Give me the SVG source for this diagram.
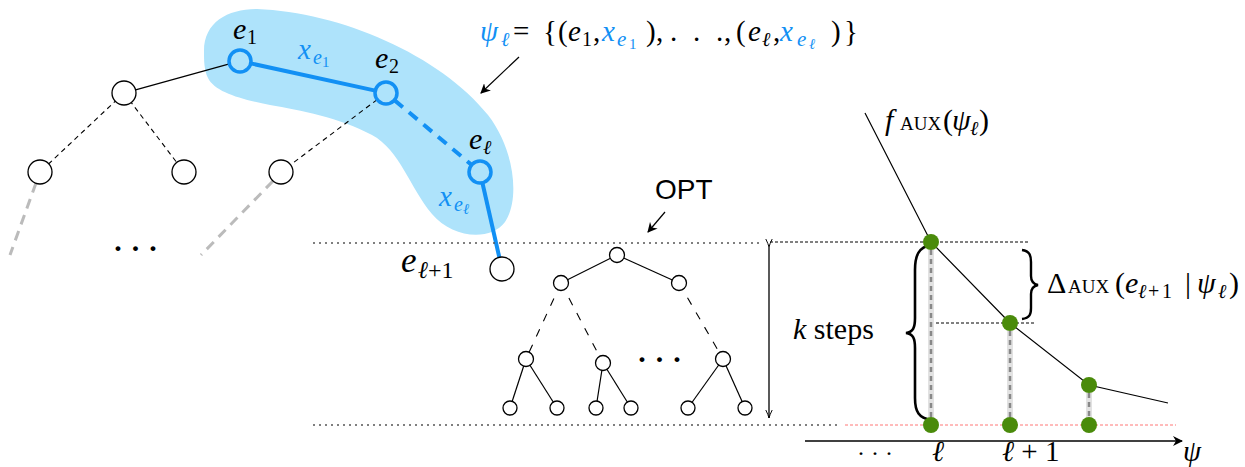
<svg xmlns="http://www.w3.org/2000/svg" width="1245" height="467" viewBox="0 0 1245 467">
<defs>
<marker id="ah" viewBox="0 0 10 10" refX="9" refY="5" markerWidth="10" markerHeight="10" markerUnits="userSpaceOnUse" orient="auto">
<path d="M0,0 L10,5 L0,10 L3,5 Z" fill="#000"/>
</marker>
<marker id="ht" viewBox="0 0 10 10" refX="10" refY="5" markerWidth="12" markerHeight="8" markerUnits="userSpaceOnUse" orient="auto">
<path d="M0,1 Q6,4 10,5 Q6,6 0,9" fill="none" stroke="#000" stroke-width="1.2"/>
</marker>
</defs>

<path id="blob" d="M204,51 C204,22 228,9 257,9 C340,12 440,55 488,115 C515,150 520,200 505,222 C490,242 452,238 432,214 C410,188 400,150 372,135 C340,118 300,110 270,105 C240,99 215,92 208,78 C204,70 204,60 204,51 Z" fill="#aee3fb"/>

<g id="connectors" fill="none">
<g stroke="#000" stroke-width="1.2">
<line x1="135.6" y1="89.8" x2="229.4" y2="63.9"/>
<line x1="617" y1="255" x2="561" y2="283"/>
<line x1="617" y1="255" x2="679" y2="283"/>
<line x1="526" y1="359" x2="510" y2="408"/>
<line x1="526" y1="359" x2="557" y2="408"/>
<line x1="603" y1="363" x2="596" y2="408"/>
<line x1="603" y1="363" x2="631" y2="408"/>
<line x1="723" y1="359" x2="688" y2="408"/>
<line x1="723" y1="359" x2="745" y2="408"/>
<line x1="519" y1="57" x2="481" y2="93" marker-end="url(#ah)"/>
<line x1="665" y1="212" x2="648" y2="232" marker-end="url(#ah)"/>
<polyline points="865,113 931,242 1010,323 1089,385 1168,403"/>
</g>
<g stroke="#000" stroke-width="1.1" stroke-dasharray="5,4">
<line x1="124" y1="93" x2="40" y2="172"/>
<line x1="124" y1="93" x2="184" y2="172"/>
<line x1="377.2" y1="99.6" x2="281" y2="172"/>
</g>
<g stroke="#000" stroke-width="1.1" stroke-dasharray="8,9">
<line x1="561" y1="283" x2="526" y2="359"/>
<line x1="561" y1="283" x2="603" y2="363"/>
<line x1="679" y1="283" x2="723" y2="359"/>
</g>
<g stroke="#bbb" stroke-width="3" stroke-dasharray="10,7">
<line x1="36" y1="183" x2="10" y2="255"/>
<line x1="273" y1="181" x2="201" y2="255"/>
</g>
<g stroke="#1290f4" stroke-width="4">
<line x1="250.7" y1="63.4" x2="375.3" y2="90.6"/>
<line x1="394.4" y1="100.1" x2="471.6" y2="164.9" stroke-dasharray="11,8"/>
<line x1="482.4" y1="182.7" x2="499.3" y2="257.3"/>
</g>
<g stroke="#555" stroke-width="1.3" stroke-dasharray="2,4">
<line x1="313" y1="243" x2="760" y2="243"/>
<line x1="313" y1="425" x2="838" y2="425"/>
</g>
<line x1="769" y1="247" x2="769" y2="418" stroke="#000" stroke-width="1.3" marker-start="url(#ht)" marker-end="url(#ht)"/>
<g stroke="#000" stroke-width="1" stroke-dasharray="3,2">
<line x1="770" y1="242" x2="1030" y2="242"/>
<line x1="931" y1="323" x2="1036" y2="323"/>
</g>
<line x1="845" y1="425" x2="1176" y2="425" stroke="#f77" stroke-width="1" stroke-dasharray="3,2"/>
<g stroke="#e2e2e2" stroke-width="6">
<line x1="931" y1="250" x2="931" y2="418"/>
<line x1="1010" y1="331" x2="1010" y2="418"/>
<line x1="1089" y1="393" x2="1089" y2="418"/>
</g>
<g stroke="#888" stroke-width="2.5" stroke-dasharray="5,4">
<line x1="931" y1="250" x2="931" y2="418"/>
<line x1="1010" y1="331" x2="1010" y2="418"/>
<line x1="1089" y1="393" x2="1089" y2="418"/>
</g>
<line x1="805" y1="441" x2="1182" y2="441" stroke="#000" stroke-width="1.4" marker-end="url(#ah)"/>
<path d="M931,245 C919,247 915,255 915,270 L915,318 C915,328 913,332 906,333 C913,334 915,338 915,348 L915,398 C915,412 919,418 931,420" stroke="#000" stroke-width="2.6"/>
<path d="M1022,250 C1030,251 1031,256 1031,262 L1031,276 C1031,281 1033,284 1038,285 C1033,286 1031,289 1031,294 L1031,308 C1031,314 1030,318 1022,319" stroke="#000" stroke-width="2.4"/>
</g>

<g fill="#fff" stroke="#000" stroke-width="1.3">
<g id="n-a"><circle cx="124" cy="93" r="12"/></g>
<g id="n-l1"><circle cx="40" cy="172" r="12"/></g>
<g id="n-l2"><circle cx="184" cy="172" r="12"/></g>
<g id="n-l3"><circle cx="281" cy="172" r="12"/></g>
</g>

<g fill="#000">
<g id="n-e1"><circle cx="240" cy="61" r="11" fill="none" stroke="#1290f4" stroke-width="3.5"/>
<text font-family="Liberation Serif" x="233" y="39" font-size="30"><tspan font-style="italic">e</tspan><tspan font-size="20" x="247" y="44">1</tspan></text></g>
<g id="n-e2"><circle cx="386" cy="93" r="11" fill="none" stroke="#1290f4" stroke-width="3.5"/>
<text font-family="Liberation Serif" x="375" y="68" font-size="30"><tspan font-style="italic">e</tspan><tspan font-size="20" x="389" y="73">2</tspan></text></g>
<g id="n-el"><circle cx="480" cy="172" r="11" fill="none" stroke="#1290f4" stroke-width="3.5"/>
<text font-family="Liberation Serif" x="469" y="149" font-size="30" font-style="italic">e<tspan font-size="20" x="483" y="154">ℓ</tspan></text></g>
<g id="n-el1"><circle cx="502" cy="269" r="12" fill="#fff" stroke="#000" stroke-width="1.3"/>
<text font-family="Liberation Serif" x="401" y="272" font-size="35"><tspan font-style="italic">e</tspan><tspan font-style="italic" font-size="24" x="418" y="278">ℓ</tspan><tspan font-size="24" x="428" y="278">+1</tspan></text></g>
<text font-family="Liberation Serif" fill="#1290f4" x="298" y="59" font-size="29" font-style="italic">x<tspan font-size="20" x="313" y="64">e</tspan><tspan font-style="normal" font-size="15" x="322" y="67">1</tspan></text>
<text font-family="Liberation Serif" fill="#1290f4" x="439" y="206" font-size="29" font-style="italic">x<tspan font-size="20" x="454" y="211">e</tspan><tspan font-size="15" x="463" y="214">ℓ</tspan></text>
<text font-family="Liberation Serif" x="113" y="258" font-size="30" font-weight="bold">· · ·</text>

<text font-family="Liberation Serif" font-size="29" y="41"><tspan fill="#1290f4" font-style="italic" x="480">ψ</tspan><tspan fill="#1290f4" font-style="italic" font-size="20" x="501" y="46">ℓ</tspan><tspan x="513" y="41">=</tspan><tspan x="543">{</tspan><tspan x="558">(</tspan><tspan font-style="italic" x="568">e</tspan><tspan font-size="20" x="582" y="46">1</tspan><tspan x="593" y="41">,</tspan><tspan fill="#1290f4" font-style="italic" x="602">x</tspan><tspan fill="#1290f4" font-style="italic" font-size="21" x="617" y="46">e</tspan><tspan fill="#1290f4" font-size="15" x="629" y="49">1</tspan><tspan x="646" y="41">)</tspan><tspan x="656">,</tspan><tspan x="670">.</tspan><tspan x="693">.</tspan><tspan x="716">.</tspan><tspan x="724">,</tspan><tspan x="736">(</tspan><tspan font-style="italic" x="748">e</tspan><tspan font-style="italic" font-size="20" x="762" y="46">ℓ</tspan><tspan x="773" y="41">,</tspan><tspan fill="#1290f4" font-style="italic" x="780">x</tspan><tspan fill="#1290f4" font-style="italic" font-size="21" x="797" y="46">e</tspan><tspan fill="#1290f4" font-style="italic" font-size="15" x="809" y="49">ℓ</tspan><tspan x="831" y="41">)</tspan><tspan x="844">}</tspan></text>

<g id="opt">
<text x="655" y="199" font-size="28" font-family="Liberation Sans">OPT</text>
<g fill="#fff" stroke="#000" stroke-width="1.3">
<circle cx="617" cy="255" r="7.5"/>
<circle cx="561" cy="283" r="7.5"/>
<circle cx="679" cy="283" r="7.5"/>
<circle cx="526" cy="359" r="7.5"/>
<circle cx="603" cy="363" r="7.5"/>
<circle cx="723" cy="359" r="7.5"/>
<circle cx="510" cy="408" r="7"/>
<circle cx="557" cy="408" r="7"/>
<circle cx="596" cy="408" r="7"/>
<circle cx="631" cy="408" r="7"/>
<circle cx="688" cy="408" r="7"/>
<circle cx="745" cy="408" r="7"/>
</g>
<text font-family="Liberation Serif" x="637" y="369" font-size="30" font-weight="bold">· · ·</text>
</g>

<g id="pts" fill="#4a8b0b">
<circle cx="931" cy="242" r="8"/>
<circle cx="1010" cy="323" r="8"/>
<circle cx="1089" cy="385" r="8"/>
<circle cx="931" cy="425" r="8"/>
<circle cx="1010" cy="425" r="8"/>
<circle cx="1089" cy="425" r="8"/>
</g>
<text font-family="Liberation Serif" font-size="30" y="130"><tspan font-style="italic" x="885">f</tspan><tspan font-size="19" x="900">AUX</tspan><tspan x="943">(</tspan><tspan font-style="italic" x="952">ψ</tspan><tspan font-style="italic" font-size="20" x="970" y="135">ℓ</tspan><tspan x="979" y="130">)</tspan></text>
<text font-family="Liberation Serif" font-size="30" y="293"><tspan x="1047">Δ</tspan><tspan font-size="19" x="1068">AUX</tspan><tspan x="1115">(</tspan><tspan font-style="italic" x="1125">e</tspan><tspan font-style="italic" font-size="20" x="1138" y="298">ℓ</tspan><tspan font-size="20" x="1148" y="298">+</tspan><tspan font-size="20" x="1162" y="298">1</tspan><tspan x="1185" y="293">|</tspan><tspan font-style="italic" x="1197">ψ</tspan><tspan font-style="italic" font-size="20" x="1218" y="298">ℓ</tspan><tspan x="1229" y="293">)</tspan></text>
<text font-family="Liberation Serif" x="793" y="339" font-size="30"><tspan font-style="italic">k</tspan> steps</text>
<text font-family="Liberation Serif" x="857" y="461" font-size="24">· · ·</text>
<text font-family="Liberation Serif" font-style="italic" x="932" y="461" font-size="29">ℓ</text>
<text font-family="Liberation Serif" x="1002" y="461" font-size="29"><tspan font-style="italic">ℓ</tspan> + 1</text>
<text font-family="Liberation Serif" font-style="italic" x="1183" y="461" font-size="29">ψ</text>
</g>
</svg>
